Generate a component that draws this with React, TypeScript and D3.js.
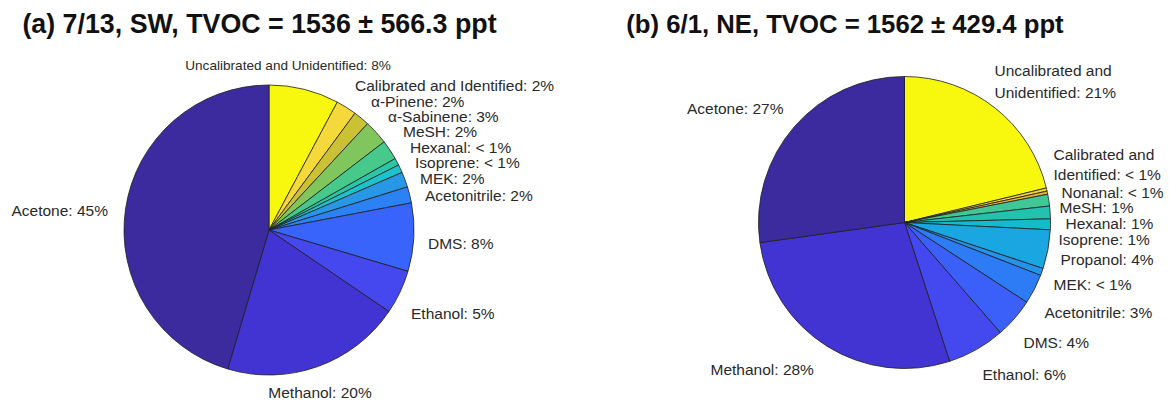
import React from 'react';
import * as d3 from 'd3';

// ---------- data ----------
const categoriesA = [
  'Uncalibrated and Unidentified', 'Calibrated and Identified', 'α-Pinene', 'α-Sabinene',
  'MeSH', 'Hexanal', 'Isoprene', 'MEK', 'Acetonitrile', 'DMS', 'Ethanol', 'Methanol', 'Acetone',
];
const valuesA = [7.8, 2.3, 1.8, 2.7, 2.2, 0.8, 0.9, 1.7, 1.8, 7.6, 4.9, 20.1, 45.4];

const categoriesB = [
  'Uncalibrated and Unidentified', 'Calibrated and Identified', 'Nonanal', 'MeSH', 'Hexanal',
  'Isoprene', 'Propanol', 'MEK', 'Acetonitrile', 'DMS', 'Ethanol', 'Methanol', 'Acetone',
];
const valuesB = [21.2, 0.35, 0.35, 1.3, 1.4, 1.2, 4.3, 0.8, 3.3, 4.4, 6.4, 27.8, 27.2];

const titleA = '(a) 7/13, SW, TVOC = 1536 ± 566.3 ppt';
const titleB = '(b) 6/1, NE, TVOC = 1562 ± 429.4 ppt';

// ---------- styles / layout ----------
const colorsA = [
  '#f8f80f', '#f5d83a', '#cbc134', '#80c65c', '#46c98a', '#27c7a8', '#1bc3cc',
  '#2898e6', '#2a82f4', '#3864fb', '#4448ee', '#4234d2', '#3b2b9f',
];
const colorsB = [
  '#f8f80f', '#f3d43a', '#e6b232', '#3fc895', '#22c2ae', '#13bccb', '#1aa6e0',
  '#2593ea', '#2d7cf6', '#3b60fa', '#4449ef', '#4234d2', '#3b2b9f',
];

type LabelPos = { dx: number; dy: number; anchor?: string; wrap?: boolean; gap?: number; size?: number };

const layoutA: LabelPos[] = [
  { dx: 19, dy: -165, anchor: 'middle', size: 13.6 },
  { dx: 86, dy: -145 },
  { dx: 102, dy: -129 },
  { dx: 119, dy: -114 },
  { dx: 134, dy: -99 },
  { dx: 141, dy: -83 },
  { dx: 146, dy: -68 },
  { dx: 151, dy: -52 },
  { dx: 156, dy: -35 },
  { dx: 159, dy: 13 },
  { dx: 142, dy: 83 },
  { dx: 51, dy: 162, anchor: 'middle' },
  { dx: -161, dy: -20, anchor: 'end' },
];
const layoutB: LabelPos[] = [
  { dx: 90, dy: -153, wrap: true, gap: 22 },
  { dx: 149, dy: -69, wrap: true, gap: 20 },
  { dx: 157, dy: -31 },
  { dx: 155, dy: -16 },
  { dx: 161, dy: 0 },
  { dx: 154, dy: 16 },
  { dx: 156, dy: 36 },
  { dx: 149, dy: 61 },
  { dx: 140, dy: 89 },
  { dx: 119, dy: 119 },
  { dx: 78, dy: 151 },
  { dx: -194, dy: 146, anchor: 'start' },
  { dx: -121, dy: -115, anchor: 'end' },
];

const FONT = '"Liberation Sans", Arial, Helvetica, sans-serif';

function pctText(v: number): string {
  return v < 1 ? '< 1%' : `${Math.round(v)}%`;
}

type PieProps = {
  cx: number; cy: number; r: number;
  categories: string[]; values: number[]; colors: string[]; layout: LabelPos[];
  title: string; titleX: number; titleSize: number;
};

function Pie({ cx, cy, r, categories, values, colors, layout, title, titleX, titleSize }: PieProps) {
  const total = d3.sum(values);
  const pie = d3.pie<number>().sort(null).value((d) => d).startAngle(0).endAngle(2 * Math.PI);
  const arcs = pie(values);
  const arc = d3.arc<d3.PieArcDatum<number>>().innerRadius(0).outerRadius(r);
  return (
    <g>
      <text x={titleX} y={33} textAnchor="middle" fontFamily={FONT} fontWeight="bold" fontSize={titleSize} fill="#111">
        {title}
      </text>
      <g transform={`translate(${cx},${cy})`}>
        {arcs.map((a, i) => (
          <path key={i} d={arc(a) || ''} fill={colors[i]} stroke="#1e1e1e" strokeWidth={0.8} strokeLinejoin="round" />
        ))}
        {categories.map((name, i) => {
          const L = layout[i];
          const label = `${name}: ${pctText((values[i] / total) * 100)}`;
          const lines = L.wrap ? label.replace(' and ', ' and\n').split('\n') : [label];
          return (
            <text key={i} x={L.dx} y={L.dy} textAnchor={L.anchor || 'start'} dominantBaseline="central"
              fontFamily={FONT} fontSize={L.size || 15.5} fill="#2a2a2a">
              {lines.map((ln, j) => (
                <tspan key={j} x={L.dx} y={L.dy + j * (L.gap || 0)}>{ln}</tspan>
              ))}
            </text>
          );
        })}
      </g>
    </g>
  );
}

export default function App() {
  return (
    <svg width={1169} height={400} style={{ position: 'absolute', left: 0, top: 0, background: '#fff' }}>
      <rect width={1169} height={400} fill="#fff" />
      <Pie cx={269} cy={230} r={145} categories={categoriesA} values={valuesA} colors={colorsA}
        layout={layoutA} title={titleA} titleX={259.5} titleSize={26.8} />
      <Pie cx={904.5} cy={222.5} r={146} categories={categoriesB} values={valuesB} colors={colorsB}
        layout={layoutB} title={titleB} titleX={845} titleSize={25.7} />
    </svg>
  );
}
